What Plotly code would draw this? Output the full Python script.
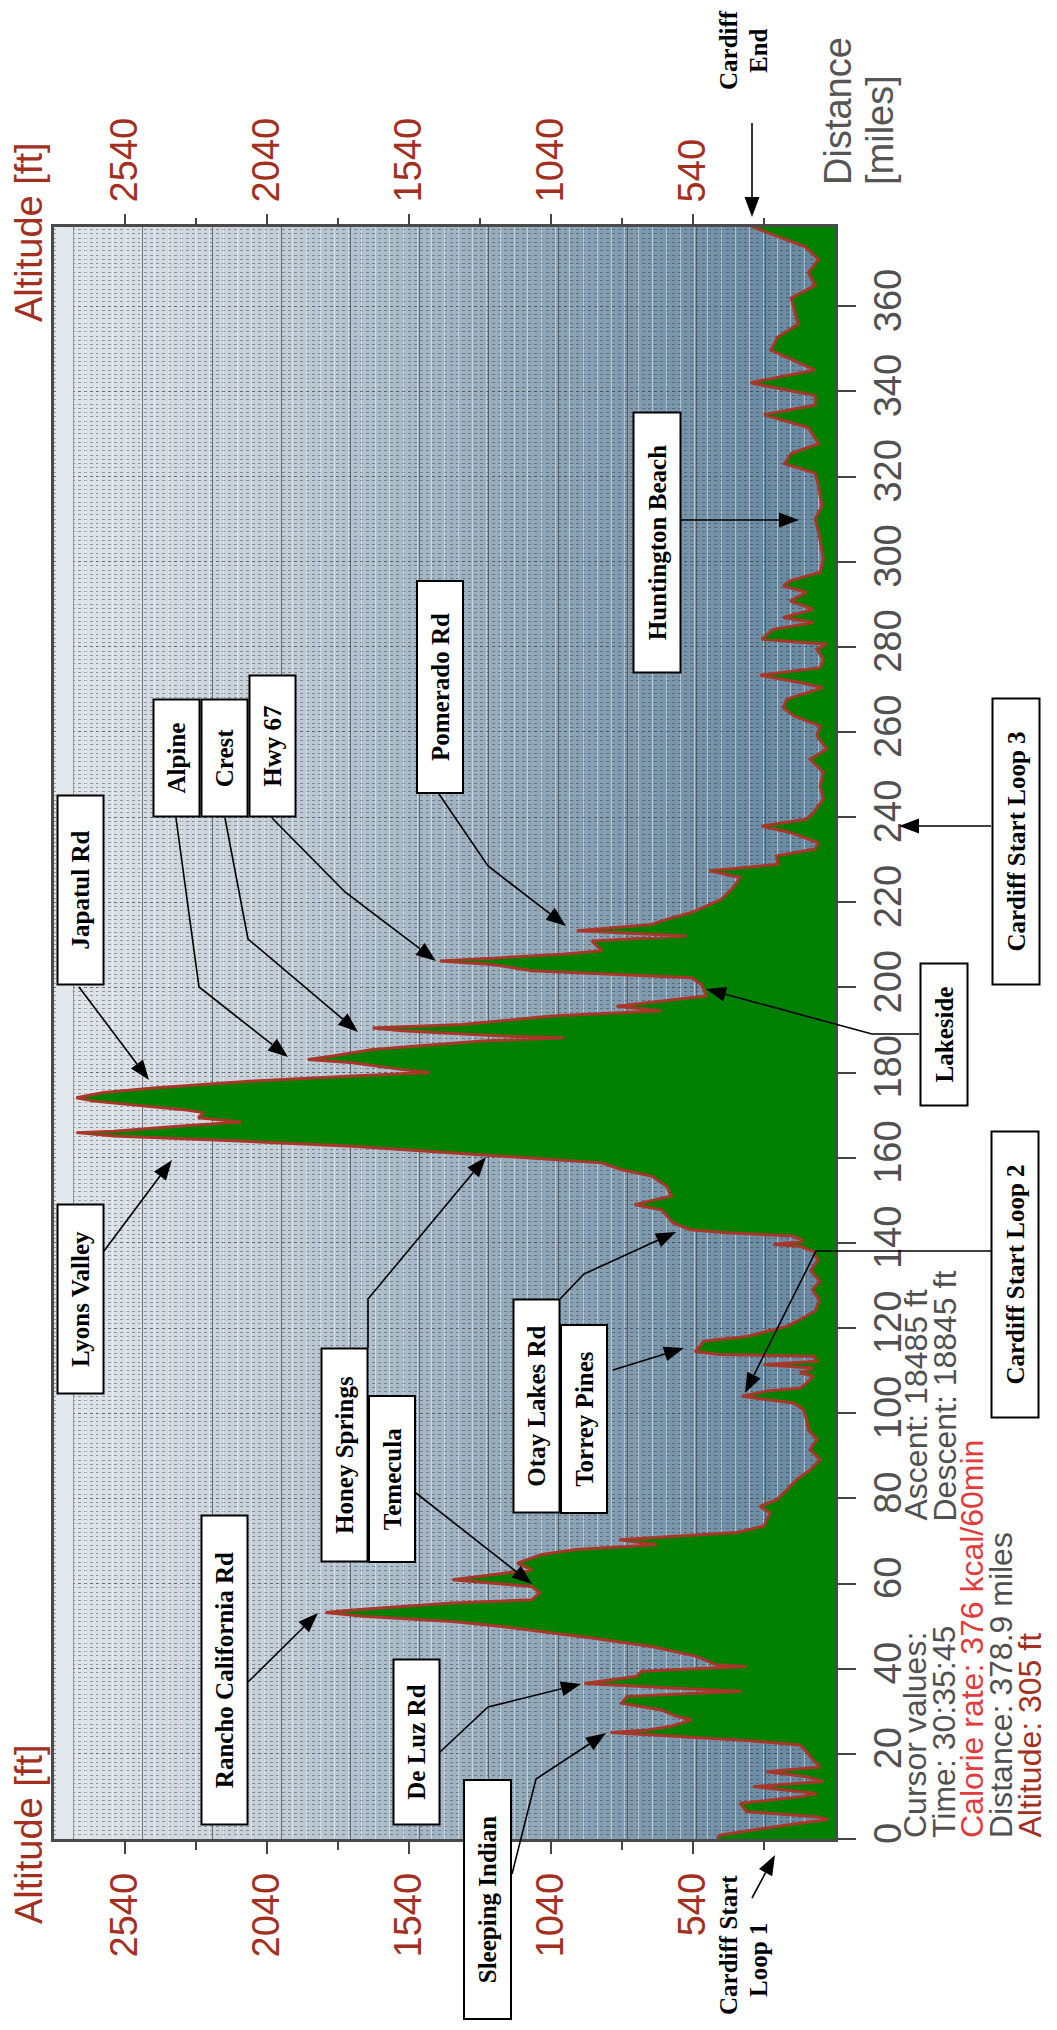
import numpy as np
import plotly.graph_objects as go

# ---------------- data ----------------
distance_mi = [
    0.0, 0.9, 2.1, 3.3, 4.6, 5.2, 6.4, 8.4, 9.9, 10.7,
    12.3, 13.5, 14.6, 15.8, 16.9, 18.5, 20.9, 22.1, 23.2, 24.2,
    25.0, 25.6, 26.4, 28.0, 28.8, 30.3, 31.9, 33.5, 34.7, 35.4,
    36.5, 38.2, 39.4, 40.5, 40.9, 42.9, 45.2, 47.2, 48.4, 49.9,
    51.1, 52.3, 53.2, 53.8, 55.4, 56.2, 57.8, 59.3, 60.9, 63.2,
    64.8, 66.8, 68.0, 69.1, 70.3,
    72.0, 73.5, 76.6, 78.1, 79.7, 82.0, 84.4, 86.7, 89.1, 91.4,
    93.8, 96.1, 98.5, 100.8, 102.4, 103.2, 104.0, 105.2, 105.9, 107.1,
    108.7, 109.5, 110.6, 111.4, 112.2, 113.4, 113.8, 114.5, 115.7, 116.9,
    118.0, 120.4, 122.0, 124.0, 126.5, 129.0, 131.0, 133.5, 136.0, 138.0,
    139.2, 139.6, 140.4, 141.6, 142.4, 143.1, 144.7,
    147.7, 149.0, 151.0, 153.3, 155.7, 157.2, 158.8, 160.0, 161.2, 162.7,
    164.3, 165.1, 165.9, 166.2, 167.4, 168.4, 169.4, 170.6, 171.3, 173.3,
    174.1, 175.3, 176.4, 178.0, 179.2, 180.0, 180.7, 182.3, 183.1, 183.9,
    185.4, 187.4, 188.2, 188.6, 189.8, 190.5, 191.3, 193.3, 194.5, 195.6,
    198.0, 200.7, 202.3, 203.9, 205.4, 206.2, 207.0, 207.8, 208.6, 210.9,
    212.1, 213.3, 214.8, 216.0, 217.6, 220.7, 223.5, 225.8, 227.4, 228.9,
    230.9, 232.5, 234.0, 236.4, 237.9, 239.5, 241.1, 244.2, 247.3, 250.5,
    253.6, 256.0, 259.1, 261.4, 263.8, 265.7, 267.7, 270.4, 271.6, 273.3,
    275.1, 277.1, 279.4, 280.6, 281.8, 284.1, 285.7, 286.9, 288.8, 290.8,
    292.8, 294.3, 295.5, 297.5, 300.6,
    302.6, 307.0, 310.0, 313.0, 317.8, 320.8, 323.0, 325.4, 327.7, 331.5,
    334.5, 336.8, 339.0, 342.0, 345.0, 349.7, 352.7, 355.8, 358.8, 361.9,
    364.9, 367.9, 371.0, 374.0, 377.0, 378.9,
]
altitude_ft = [
    455, 445, 328, 210, 63, 105, 351, 374, 163, 105,
    328, 81, 140, 281, 93, 116, 146, 163, 363, 600,
    830, 700, 621, 545, 598, 651, 791, 773, 370, 598,
    922, 738, 721, 353, 458, 528, 686, 896, 1037, 1212,
    1387, 1703, 1834, 1738, 1387, 1107, 1080, 1107, 1387, 1107,
    1159, 1072, 949, 668, 800,
    386, 290, 269, 304, 245, 210, 175, 128, 92, 128,
    104, 134, 140, 151, 186, 280, 368, 280, 163, 140,
    116, 163, 116, 292, 104, 116, 445, 533, 515, 503,
    351, 210, 163, 110, 95, 120, 93, 125, 100, 116,
    163, 257, 150, 186, 421, 550, 610,
    650, 746, 616, 633, 686, 791, 861, 1124, 1387, 1738,
    2264, 2580, 2711, 2580, 2352, 2132, 2282, 2264, 2334, 2650,
    2711, 2615, 2439, 2089, 1738, 1466, 1563, 1738, 1896, 1808,
    1668, 1282, 993, 1212, 1563, 1668, 1352, 1037, 651, 809,
    493, 510, 545, 1107, 1247, 1431, 1212, 1000, 861, 896,
    563, 949, 686, 633, 545, 440, 398, 374, 482, 242,
    245, 110, 100, 198, 298, 140, 116, 81, 92, 81,
    128, 69, 104, 92, 186, 222, 210, 81, 163, 304,
    92, 81, 104, 69, 298, 257, 116, 222, 116, 198,
    140, 222, 198, 92, 81,
    86, 98, 110, 86, 98, 110, 218, 194, 98, 134,
    290, 110, 110, 338, 110, 266, 242, 170, 182, 194,
    110, 134, 98, 146, 266, 340,
]

alt_tick_vals = [540, 1040, 1540, 2040, 2540]
alt_minor_vals = [290, 790, 1290, 1790, 2290]
dist_tick_vals = list(range(0, 361, 20))

place_labels = [
    "Lyons Valley", "Honey Springs", "Temecula", "Rancho California Rd",
    "De Luz Rd", "Sleeping Indian", "Otay Lakes Rd", "Torrey Pines",
    "Cardiff Start Loop 2", "Lakeside", "Japatul Rd", "Alpine", "Crest",
    "Hwy 67", "Pomerado Rd", "Huntington Beach", "Cardiff Start Loop 3",
]
cursor_texts = [
    "Cursor values:", "Time: 30:35:45", "Calorie rate: 376 kcal/60min",
    "Distance: 378.9 miles", "Altitude: 305 ft",
    "Ascent: 18485 ft", "Descent: 18845 ft",
]

# ---------------- layout geometry / styles ----------------
# The page body keeps the browser's default 8px margin, so the figure is drawn
# 8px in from the window's top-left corner; size it so the page fits exactly.
BODY_MARGIN = 8
WIN_W, WIN_H = 1057, 2030
FIG_W, FIG_H = WIN_W - 2 * BODY_MARGIN, WIN_H - 2 * BODY_MARGIN
# plot area in window (reference picture) pixels
PL, PT, PW, PH = 54, 227, 781, 1612
ALT_RANGE = [2790, 40]
DIST_RANGE = [0, 378.6]

SANS = "Liberation Sans, Arial, sans-serif"
SERIF = "Liberation Serif, Times New Roman, serif"
ALT_RED = "#a3301f"
GRAY_TXT = "#505050"
BRIGHT_RED = "#e23b3b"
LINE_RED = "#a8372a"
GREEN = "#008000"
FRAME = "#4a4a4a"


def paper(px, py):
    return (px - PL) / PW, (PT + PH - py) / PH


# box pixel extents (x0, x1, y0, y1) for each place label
box_px = [
    (56, 104, 1204, 1395), (320, 368, 1348, 1563), (368, 416, 1395, 1563),
    (200, 248, 1515, 1826), (392, 440, 1659, 1826), (463, 512, 1779, 2020),
    (512, 560, 1299, 1514), (560, 608, 1324, 1514), (991, 1040, 1131, 1419),
    (919, 968, 963, 1107), (56, 104, 795, 986), (152, 200, 699, 818),
    (200, 248, 699, 818), (248, 296, 675, 818), (416, 464, 580, 794),
    (632, 681, 412, 674), (991, 1040, 698, 986),
]
leaders_px = [
    [(104, 1251), (172, 1160)],
    [(368, 1348), (368, 1299), (486, 1157)],
    [(416, 1493), (532, 1584)],
    [(248, 1682), (318, 1613)],
    [(440, 1752), (488, 1707), (581, 1684)],
    [(512, 1874), (536, 1779), (606, 1733)],
    [(560, 1299), (584, 1274), (676, 1232)],
    [(613, 1370), (684, 1348)],
    [(991, 1251), (816, 1251), (745, 1393)],
    [(919, 1034), (872, 1034), (706, 989)],
    [(79, 987), (149, 1080)],
    [(176, 818), (199, 987), (288, 1057)],
    [(225, 818), (248, 939), (358, 1032)],
    [(272, 818), (345, 892), (436, 961)],
    [(439, 794), (488, 866), (566, 926)],
    [(681, 520), (799, 520)],
    [(991, 826), (899, 826)],
    [(752, 123), (752, 217)],      # Cardiff End
    [(752, 1898), (775, 1855)],    # Cardiff Start Loop 1
]

# ---------------- background gradient ----------------
grad_stops = [(40, "#6587a0"), (540, "#7694aa"), (1040, "#8da5b7"),
              (1540, "#a8bac8"), (2040, "#c4cfd8"), (2540, "#d8dfe5"),
              (2790, "#e1e6ea")]


def hex2rgb(h):
    return np.array([int(h[i:i + 2], 16) for i in (1, 3, 5)], float)


def grad_color(a):
    for (a0, c0), (a1, c1) in zip(grad_stops[:-1], grad_stops[1:]):
        if a0 <= a <= a1:
            t = (a - a0) / (a1 - a0)
            c = hex2rgb(c0) * (1 - t) + hex2rgb(c1) * t
            return "rgb(%d,%d,%d)" % tuple(c.round())
    return grad_stops[-1][1]


shapes = []
edges = np.linspace(ALT_RANGE[1], ALT_RANGE[0], 111)
step = edges[1] - edges[0]
for a0, a1 in zip(edges[:-1], edges[1:]):
    shapes.append(dict(type="rect", xref="x", yref="paper", x0=a0, x1=a1 + step * 0.3,
                       y0=0, y1=1, fillcolor=grad_color((a0 + a1) / 2),
                       line=dict(width=0), layer="below"))
# pale strip at the high-altitude edge
shapes.append(dict(type="rect", xref="x", yref="paper", x0=2722, x1=2783, y0=0.001, y1=0.999,
                   fillcolor="#e3e8ec", line=dict(width=0), layer="above"))

# leaders + arrow heads
HEAD_L, HEAD_W = 20, 7.5
for pts in leaders_px:
    (hx, hy), (qx, qy) = pts[-1], pts[-2]
    d = np.array([hx - qx, hy - qy], float)
    u = d / np.linalg.norm(d)
    n = np.array([-u[1], u[0]])
    base = np.array([hx, hy]) - HEAD_L * u
    line_pts = list(pts[:-1]) + [tuple(base)]
    path = "M " + " L ".join("%.5f,%.5f" % paper(*p) for p in line_pts)
    shapes.append(dict(type="path", xref="paper", yref="paper", path=path,
                       line=dict(color="black", width=1.6), layer="above"))
    b1 = base + HEAD_W * n
    b2 = base - HEAD_W * n
    tri = "M %.5f,%.5f L %.5f,%.5f L %.5f,%.5f Z" % (*paper(hx, hy), *paper(*b1), *paper(*b2))
    shapes.append(dict(type="path", xref="paper", yref="paper", path=tri,
                       fillcolor="black", line=dict(width=0), layer="above"))

# ---------------- annotations ----------------
annotations = []
for text, (x0, x1, y0, y1) in zip(place_labels, box_px):
    cx, cy = paper((x0 + x1) / 2, (y0 + y1) / 2)
    annotations.append(dict(
        xref="paper", yref="paper", x=cx, y=cy, xanchor="center", yanchor="middle",
        text="<b>%s</b>" % text, showarrow=False, textangle=-90,
        width=(y1 - y0) - 4, height=(x1 - x0) - 4,
        bgcolor="white", bordercolor="black", borderwidth=2, borderpad=0,
        font=dict(family=SERIF, size=25, color="black")))

for text, px, py in [("Cardiff", 728, 50), ("End", 758, 51),
                     ("Cardiff Start", 728, 1945), ("Loop 1", 758, 1960)]:
    x, y = paper(px, py)
    annotations.append(dict(xref="paper", yref="paper", x=x, y=y, xanchor="center",
                            yanchor="middle", text="<b>%s</b>" % text, showarrow=False,
                            textangle=-90, font=dict(family=SERIF, size=25, color="black")))

for py in (232, 1834):
    x, y = paper(29, py)
    annotations.append(dict(xref="paper", yref="paper", x=x, y=y, xanchor="center",
                            yanchor="middle", text="Altitude [ft]", showarrow=False,
                            textangle=-90, font=dict(family=SANS, size=38, color=ALT_RED)))

for text, px in [("Distance", 838), ("[miles]", 880)]:
    x, y = paper(px, 187)
    annotations.append(dict(xref="paper", yref="paper", x=x, y=y, xanchor="center",
                            yanchor="bottom", text=text, showarrow=False,
                            textangle=-90, font=dict(family=SANS, size=38, color="#555555")))

cursor_pos = [(915, 1839, GRAY_TXT), (944, 1839, GRAY_TXT), (972, 1839, BRIGHT_RED),
              (1001, 1839, GRAY_TXT), (1029, 1839, ALT_RED),
              (915, 1522, GRAY_TXT), (944, 1522, GRAY_TXT)]
for text, (px, py, col) in zip(cursor_texts, cursor_pos):
    x, y = paper(px, py)
    annotations.append(dict(xref="paper", yref="paper", x=x, y=y, xanchor="center",
                            yanchor="bottom", text=text, showarrow=False, borderpad=0,
                            textangle=-90,
                            font=dict(family=SANS, size=32, color=col)))

# ---------------- figure ----------------
fig = go.Figure()
fig.add_trace(go.Scatter(
    x=altitude_ft, y=distance_mi, mode="lines",
    line=dict(color=LINE_RED, width=3), fill="tozerox", fillcolor=GREEN,
    hoverinfo="skip", showlegend=False))
fig.add_trace(go.Scatter(x=[None], y=[None], xaxis="x2", showlegend=False, hoverinfo="skip"))
fig.add_trace(go.Scatter(x=[None], y=[None], xaxis="x3", showlegend=False, hoverinfo="skip"))

alt_axis_common = dict(
    range=ALT_RANGE, tickmode="array", tickvals=alt_tick_vals,
    ticktext=[str(v) for v in alt_tick_vals],
    ticks="outside", ticklen=12, tickwidth=2, tickcolor="#444444",
    tickangle=-90, tickfont=dict(family=SANS, size=38, color=ALT_RED),
    showgrid=False, zeroline=False, ticklabelstandoff=4,
    minor=dict(tickmode="array", tickvals=alt_minor_vals, ticks="outside",
               ticklen=8, tickwidth=2, tickcolor="#444444", showgrid=False),
)
DOT = "rgba(45,45,45,0.42)"
fig.update_layout(
    width=FIG_W, height=FIG_H, autosize=False,
    margin=dict(l=PL - BODY_MARGIN, r=FIG_W - (PL - BODY_MARGIN) - PW,
                t=PT - BODY_MARGIN, b=FIG_H - (PT - BODY_MARGIN) - PH, pad=0),
    paper_bgcolor="white", plot_bgcolor="#8aa3b6",
    showlegend=False, hovermode=False,
    xaxis=dict(**alt_axis_common, side="bottom", showline=True, linecolor=FRAME,
               linewidth=2.5, mirror=True),
    xaxis2=dict(**alt_axis_common, side="top", overlaying="x", anchor="y", showline=False),
    xaxis3=dict(range=ALT_RANGE, overlaying="x", anchor="y", tick0=40, dtick=243.7,
                showgrid=True, gridcolor="rgba(70,70,70,0.7)", gridwidth=1,
                showticklabels=False, ticks="", zeroline=False, showline=False,
                minor=dict(dtick=243.7 / 5, showgrid=True,
                           gridcolor="rgba(255,255,255,0.45)", gridwidth=1)),
    yaxis=dict(range=DIST_RANGE, side="right", tickmode="array", tickvals=dist_tick_vals,
               ticks="outside", ticklen=18, tickwidth=2, tickcolor="#444444",
               tickangle=-90, tickfont=dict(family=SANS, size=38, color=GRAY_TXT),
               ticklabelstandoff=0,
               showline=True, mirror=True, linecolor=FRAME, linewidth=2.5,
               showgrid=True, gridcolor=DOT, griddash="dot", gridwidth=1, zeroline=False,
               minor=dict(dtick=1, showgrid=True, gridcolor=DOT, griddash="dot", gridwidth=1)),
    shapes=shapes, annotations=annotations,
)

fig.write_html("out.html")
